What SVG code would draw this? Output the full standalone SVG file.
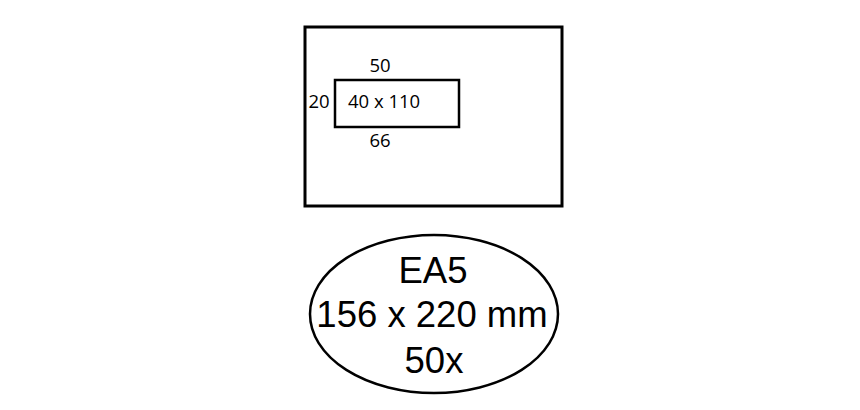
<svg xmlns="http://www.w3.org/2000/svg" width="860" height="410" viewBox="0 0 860 410">
<style>
.ln{fill:none;stroke:#000}
.sm{font-family:"Open Sans","Lato",sans-serif;font-size:18.5px;fill:#000}
.lg{font-family:"Liberation Sans",Arial,sans-serif;font-size:36.5px;fill:#000;text-anchor:middle}
</style>
<rect width="860" height="410" fill="#fff"/>
<g id="envelope">
<rect class="ln" x="305" y="27" width="257" height="179" stroke-width="3"/>
</g>
<g id="window">
<rect class="ln" x="335" y="80" width="124" height="47" stroke-width="2.5"/>
<text class="sm" x="348" y="108">40 x 110</text>
</g>
<g id="labels">
<text class="sm" x="380" y="72" text-anchor="middle">50</text>
<text class="sm" x="319" y="108" text-anchor="middle">20</text>
<text class="sm" x="380" y="147" text-anchor="middle">66</text>
</g>
<g id="badge">
<ellipse class="ln" cx="434" cy="314" rx="124" ry="79" stroke-width="2.5"/>
<text class="lg" x="433" y="283">EA5</text>
<text class="lg" x="432" y="327">156 x 220 mm</text>
<text class="lg" x="434" y="373">50x</text>
</g>
</svg>
